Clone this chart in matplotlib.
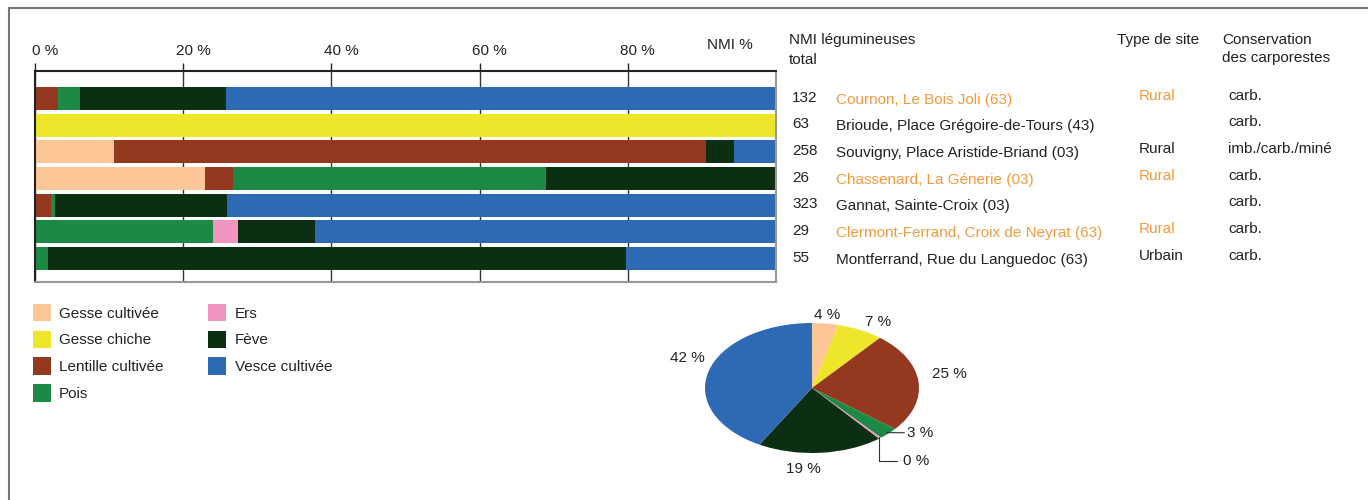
import matplotlib.pyplot as plt
from matplotlib.lines import Line2D
from matplotlib.transforms import ScaledTranslation
import numpy as np

plt.rcParams['font.family'] = ['Liberation Sans', 'DejaVu Sans']
plt.rcParams['font.size'] = 11
plt.rcParams['text.color'] = '#222222'

# données
especes = ['Gesse cultivée', 'Gesse chiche', 'Lentille cultivée', 'Pois',
           'Ers', 'Fève', 'Vesce cultivée']
couleurs = ['#FCC697', '#EDE62A', '#943920', '#1C8A45',
            '#F296C1', '#0C2E12', '#2D6AB3']

sites = ['Cournon, Le Bois Joli (63)', 'Brioude, Place Grégoire-de-Tours (43)',
         'Souvigny, Place Aristide-Briand (03)', 'Chassenard, La Génerie (03)',
         'Gannat, Sainte-Croix (03)', 'Clermont-Ferrand, Croix de Neyrat (63)',
         'Montferrand, Rue du Languedoc (63)']
nmi_total = [132, 63, 258, 26, 323, 29, 55]
type_site = ['Rural', '', 'Rural', 'Rural', '', 'Rural', 'Urbain']
conservation = ['carb.', 'carb.', 'imb./carb./miné', 'carb.', 'carb.', 'carb.', 'carb.']
orange_site = [True, False, False, True, False, True, False]

# % NMI par site (une liste par espèce, dans l'ordre des sites)
gesse_cult = [0, 0, 10.7, 22.9, 0, 0, 0]
gesse_chiche = [0, 100, 0, 0, 0, 0, 0]
lentille = [3.1, 0, 79.8, 3.8, 2.2, 0, 0]
pois = [3.0, 0, 0, 42.3, 0.5, 24.0, 1.8]
ers = [0, 0, 0, 0, 0, 3.4, 0]
feve = [19.7, 0, 3.8, 31.0, 23.2, 10.4, 78.0]
vesce = [74.2, 0, 5.7, 0, 74.1, 62.2, 20.2]

# camembert global
pie_vals = [4, 7, 25, 3, 0.4, 19, 42]
pie_labels = ['4 %', '7 %', '25 %', '3 %', '0 %', '19 %', '42 %']

W, H = 1368, 500
fig = plt.figure(figsize=(W / 100, H / 100), dpi=100)

def px(x, y):
    return x / W, 1 - y / H

# cadre
fig.add_artist(Line2D([8.5 / W, 8.5 / W], [0, 1 - 7.5 / H], color='#777777', lw=1.5))
fig.add_artist(Line2D([8.5 / W, 1], [1 - 7.5 / H, 1 - 7.5 / H], color='#777777', lw=1.5))

# barres
ax = fig.add_axes([35 / W, 1 - 282 / H, 741 / W, 211 / H])
series = [gesse_cult, gesse_chiche, lentille, pois, ers, feve, vesce]
y = np.arange(len(sites))
left = np.zeros(len(sites))
for vals, c, nom in zip(series, couleurs, especes):
    ax.barh(y, vals, left=left, height=0.86, color=c, label=nom, lw=0)
    left += np.array(vals)

ax.set_xlim(0, 100)
ax.set_ylim(6.88, -1.03)
ax.set_xticks([0, 20, 40, 60, 80])
ax.set_xticklabels(['0 %', '20 %', '40 %', '60 %', '80 %'])
ax.xaxis.tick_top()
ax.tick_params(axis='x', direction='out', length=6, width=1, color='#222222', pad=3,
               labelsize=11, labelcolor='#222222')
decal = ScaledTranslation(10 / 100, 0, fig.dpi_scale_trans)
for t in ax.get_xticklabels():
    t.set_transform(t.get_transform() + decal)
ax.set_yticks([])
ax.grid(axis='x', color='#333333', lw=1)
ax.set_axisbelow(True)
ax.spines['top'].set_color('#222222')
ax.spines['left'].set_color('#222222')
ax.spines['bottom'].set_color('#999999')
ax.spines['right'].set_color('#999999')
for s in ax.spines.values():
    s.set_linewidth(1.5)
fig.text(*px(730, 45), 'NMI %', ha='center', va='center', fontsize=11)

# légende
handles, labs = ax.get_legend_handles_labels()
fig.legend(handles, labs, ncol=2, loc='upper left', bbox_to_anchor=px(19, 290),
           frameon=False, handlelength=1.18, handleheight=1.4, columnspacing=2.93,
           labelspacing=0.6, handletextpad=0.55, fontsize=11)

# tableau à droite
orange = '#F39A3C'
fig.text(*px(789, 40), 'NMI légumineuses', va='center')
fig.text(*px(789, 60), 'total', va='center')
fig.text(*px(1117, 40), 'Type de site', va='center')
fig.text(*px(1222, 40), 'Conservation', va='center')
fig.text(*px(1222, 58), 'des carporestes', va='center')
for i in range(len(sites)):
    yc = 98.5 + i * 26.67
    col = orange if orange_site[i] else '#222222'
    fig.text(*px(792, yc - 1), str(nmi_total[i]), va='center')
    fig.text(*px(836, yc + 1), sites[i], va='center', color=col)
    fig.text(*px(1139, yc - 3), type_site[i], va='center', color=col)
    fig.text(*px(1228, yc - 3), conservation[i], va='center')

# camembert
axp = fig.add_axes([705 / W, 1 - 453 / H, 214 / W, 130 / H])
wedges, _ = axp.pie(pie_vals, colors=couleurs, startangle=90, counterclock=False,
                    wedgeprops=dict(lw=0))
axp.set_aspect('auto')
axp.set_xlim(-1, 1)
axp.set_ylim(-1, 1)
# position des étiquettes (facteurs radiaux x, y)
lab_pos = {'4 %': (1.15, 1.13), '7 %': (1.1, 1.13), '25 %': (1.13, 2.1),
           '19 %': (-1.0, 1.25), '42 %': (1.04, 1.8)}
for w, lab in zip(wedges, pie_labels):
    if lab not in lab_pos:
        continue
    mid = np.deg2rad((w.theta1 + w.theta2) / 2)
    cx, cy = np.cos(mid), np.sin(mid)
    fx, fy = lab_pos[lab]
    ha = 'left' if cx > 0.3 else ('right' if cx < -0.3 else 'center')
    axp.text(fx * cx, fy * cy, lab, ha=ha, va='center', fontsize=11)

# petites parts avec traits de rappel
w3 = wedges[3]
m3 = np.deg2rad((w3.theta1 + w3.theta2) / 2)
axp.annotate('3 %', xy=(np.cos(m3) * 0.98, np.sin(m3) * 0.98), xytext=(0.89, -0.69),
             va='center', fontsize=11,
             arrowprops=dict(arrowstyle='-', color='#333333', lw=0.8, shrinkA=0, shrinkB=0))
w0 = wedges[4]
m0 = np.deg2rad((w0.theta1 + w0.theta2) / 2)
axp.annotate('0 %', xy=(np.cos(m0) * 0.98, np.sin(m0) * 0.98), xytext=(0.85, -1.12),
             va='center', fontsize=11,
             arrowprops=dict(arrowstyle='-', color='#333333', lw=0.8, shrinkA=2, shrinkB=0,
                             connectionstyle='angle,angleA=0,angleB=90,rad=0'))

fig.savefig('out.png', dpi=100)
